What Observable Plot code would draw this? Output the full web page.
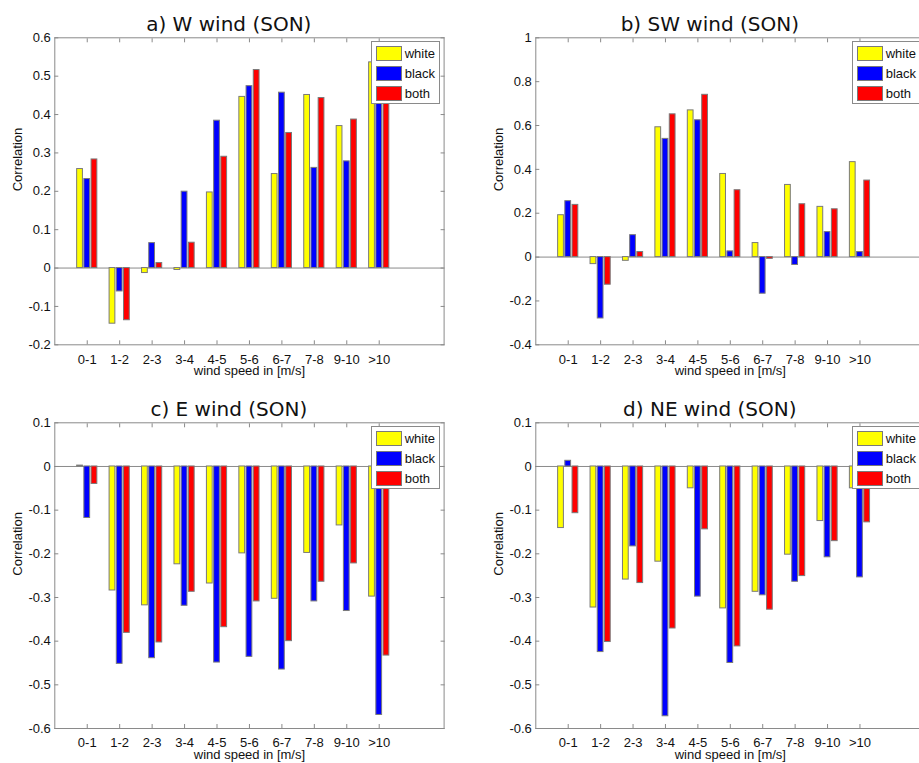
<!DOCTYPE html>
<html>
<head>
<meta charset="utf-8">
<script src="https://cdn.jsdelivr.net/npm/d3@7"></script>
<script src="https://cdn.jsdelivr.net/npm/@observablehq/plot@0.6"></script>
<style>
  html, body { margin: 0; padding: 0; background: #fff; }
  body { position: relative; width: 919px; height: 763px; overflow: hidden; }
  .panel { position: absolute; width: 480px; }
  .panel svg { overflow: visible; display: block; max-width: none !important; }
  .title {
    position: absolute; white-space: nowrap; transform: translateX(-50%);
    font-family: "DejaVu Sans", sans-serif; font-size: 20px; line-height: 20px; color: #111;
  }
  .legend {
    position: absolute; box-sizing: border-box; width: 69px; height: 63px;
    background: #fff; border: 1px solid #8a8a8a;
    font-family: "Liberation Sans", Arial, sans-serif; font-size: 13px; color: #111;
  }
  .legend .row { position: absolute; left: 4px; height: 15px; display: flex; align-items: center; }
  .legend .sw { box-sizing: border-box; width: 26px; height: 15px; border: 1px solid #7a7a7a; margin-right: 3px; }
</style>
</head>
<body>
<script>
// wind speed classes on the x axis
const speedBins = ["0-1", "1-2", "2-3", "3-4", "4-5", "5-6", "6-7", "7-8", "9-10", ">10"];
const seriesNames = ["white", "black", "both"];
const seriesColors = ["#ffff00", "#0000ff", "#ff0000"];

// a) W wind
const wWhite = [0.258, -0.145, -0.013, -0.005, 0.197, 0.446, 0.245, 0.451, 0.370, 0.536];
const wBlack = [0.232, -0.061, 0.065, 0.199, 0.384, 0.474, 0.457, 0.261, 0.278, 0.470];
const wBoth  = [0.283, -0.136, 0.013, 0.066, 0.290, 0.516, 0.352, 0.443, 0.387, 0.455];
const wTicks = [-0.2, -0.1, 0, 0.1, 0.2, 0.3, 0.4, 0.5, 0.6];

// b) SW wind
const swWhite = [0.191, -0.032, -0.017, 0.592, 0.669, 0.379, 0.064, 0.329, 0.229, 0.433];
const swBlack = [0.255, -0.280, 0.100, 0.539, 0.624, 0.026, -0.167, -0.036, 0.114, 0.023];
const swBoth  = [0.238, -0.126, 0.023, 0.651, 0.740, 0.305, -0.008, 0.241, 0.218, 0.349];
const swTicks = [-0.4, -0.2, 0, 0.2, 0.4, 0.6, 0.8, 1];

// c) E wind
const eWhite = [0.002, -0.284, -0.318, -0.224, -0.268, -0.199, -0.303, -0.198, -0.135, -0.298];
const eBlack = [-0.118, -0.452, -0.439, -0.319, -0.449, -0.436, -0.465, -0.309, -0.331, -0.569];
const eBoth  = [-0.040, -0.381, -0.403, -0.287, -0.368, -0.309, -0.400, -0.264, -0.222, -0.433];
const eTicks = [-0.6, -0.5, -0.4, -0.3, -0.2, -0.1, 0, 0.1];

// d) NE wind
const neWhite = [-0.141, -0.323, -0.259, -0.218, -0.050, -0.325, -0.287, -0.202, -0.125, -0.050];
const neBlack = [0.013, -0.425, -0.183, -0.572, -0.298, -0.450, -0.295, -0.264, -0.208, -0.254];
const neBoth  = [-0.107, -0.402, -0.267, -0.371, -0.144, -0.412, -0.328, -0.251, -0.171, -0.128];
const neTicks = [-0.6, -0.5, -0.4, -0.3, -0.2, -0.1, 0, 0.1];

const panels = [
  {title: "a) W wind (SON)",  series: [wWhite, wBlack, wBoth],   ticks: wTicks,  domain: [-0.2, 0.6],
   left: 0,   top: 0,   width: 460, height: 390, mL: 54.3, mR: 16.4, mT: 37.3, mB: 45.7},
  {title: "b) SW wind (SON)", series: [swWhite, swBlack, swBoth], ticks: swTicks, domain: [-0.4, 1],
   left: 460, top: 0,   width: 480, height: 390, mL: 75.3, mR: 15.7, mT: 37.3, mB: 45.7},
  {title: "c) E wind (SON)",  series: [eWhite, eBlack, eBoth],   ticks: eTicks,  domain: [-0.6, 0.1],
   left: 0,   top: 390, width: 460, height: 400, mL: 54.3, mR: 16.4, mT: 32.3, mB: 62},
  {title: "d) NE wind (SON)", series: [neWhite, neBlack, neBoth], ticks: neTicks, domain: [-0.6, 0.1],
   left: 460, top: 390, width: 480, height: 400, mL: 75.3, mR: 15.7, mT: 32.3, mB: 62}
];

// grouped-bar layout in x units (one unit per speed class)
const groupWidth = Math.min(0.8, 3 / (3 + 1.5));
const barWidth = groupWidth / 3 * 0.8;
const barStep = groupWidth / 3;
const positions = speedBins.map((_, i) => i + 1);
const axisGray = "#8a8a8a";
const textColor = "#111";
const fontSize = 13;
const fmt = d => String(+d.toFixed(2));

for (const p of panels) {
  const rows = speedBins.flatMap((bin, i) =>
    seriesNames.map((s, j) => ({pos: i + 1, j, series: s, value: p.series[j][i]})));

  const chart = Plot.plot({
    width: p.width, height: p.height,
    marginLeft: p.mL, marginRight: p.mR, marginTop: p.mT, marginBottom: p.mB,
    style: {fontFamily: "Liberation Sans, Arial, sans-serif", background: "transparent"},
    x: {domain: [0, speedBins.length + 2]},
    y: {domain: p.domain},
    color: {domain: seriesNames, range: seriesColors},
    marks: [
      Plot.ruleY([0], {stroke: axisGray}),
      Plot.rect(rows, {
        x1: d => d.pos + (d.j - 1) * barStep - barWidth / 2,
        x2: d => d.pos + (d.j - 1) * barStep + barWidth / 2,
        y1: 0, y2: "value",
        fill: "series", stroke: "#7a7a7a", strokeWidth: 1
      }),
      Plot.frame({stroke: axisGray}),
      // inward ticks on all four sides
      Plot.axisX(positions, {anchor: "bottom", tickSize: -4, stroke: axisGray, tickFormat: () => "", label: null}),
      Plot.axisX(positions, {anchor: "top", tickSize: -4, stroke: axisGray, tickFormat: () => "", label: null}),
      Plot.axisY(p.ticks, {anchor: "left", tickSize: -4, stroke: axisGray, tickFormat: () => "", label: null}),
      Plot.axisY(p.ticks, {anchor: "right", tickSize: -4, stroke: axisGray, tickFormat: () => "", label: null}),
      // tick labels
      Plot.axisX(positions, {anchor: "bottom", tickSize: 0, tickPadding: 9.5, fontSize, fill: textColor,
        tickFormat: i => speedBins[i - 1], label: null}),
      Plot.axisY(p.ticks, {anchor: "left", tickSize: 0, tickPadding: 4, fontSize, fill: textColor,
        tickFormat: fmt, label: null}),
      // axis titles
      Plot.text(["wind speed in [m/s]"], {frameAnchor: "bottom", dy: 30, text: d => d, fontSize, fill: textColor}),
      Plot.text(["Correlation"], {frameAnchor: "left", dx: -37, rotate: -90, text: d => d, fontSize, fill: textColor})
    ]
  });

  const wrap = document.createElement("div");
  wrap.className = "panel";
  wrap.style.left = p.left + "px";
  wrap.style.top = p.top + "px";
  wrap.appendChild(chart);

  const title = document.createElement("div");
  title.className = "title";
  title.textContent = p.title;
  title.style.left = (p.mL + 174.5) + "px";
  title.style.top = (p.mT - 23) + "px";
  wrap.appendChild(title);

  const legend = document.createElement("div");
  legend.className = "legend";
  legend.style.left = (p.mL + 316.4) + "px";
  legend.style.top = (p.mT + 4) + "px";
  seriesNames.forEach((s, j) => {
    const row = document.createElement("div");
    row.className = "row";
    row.style.top = (3.4 + j * 20) + "px";
    const sw = document.createElement("span");
    sw.className = "sw";
    sw.style.background = seriesColors[j];
    const label = document.createElement("span");
    label.textContent = s;
    row.appendChild(sw);
    row.appendChild(label);
    legend.appendChild(row);
  });
  wrap.appendChild(legend);

  document.body.appendChild(wrap);
}
</script>
</body>
</html>
